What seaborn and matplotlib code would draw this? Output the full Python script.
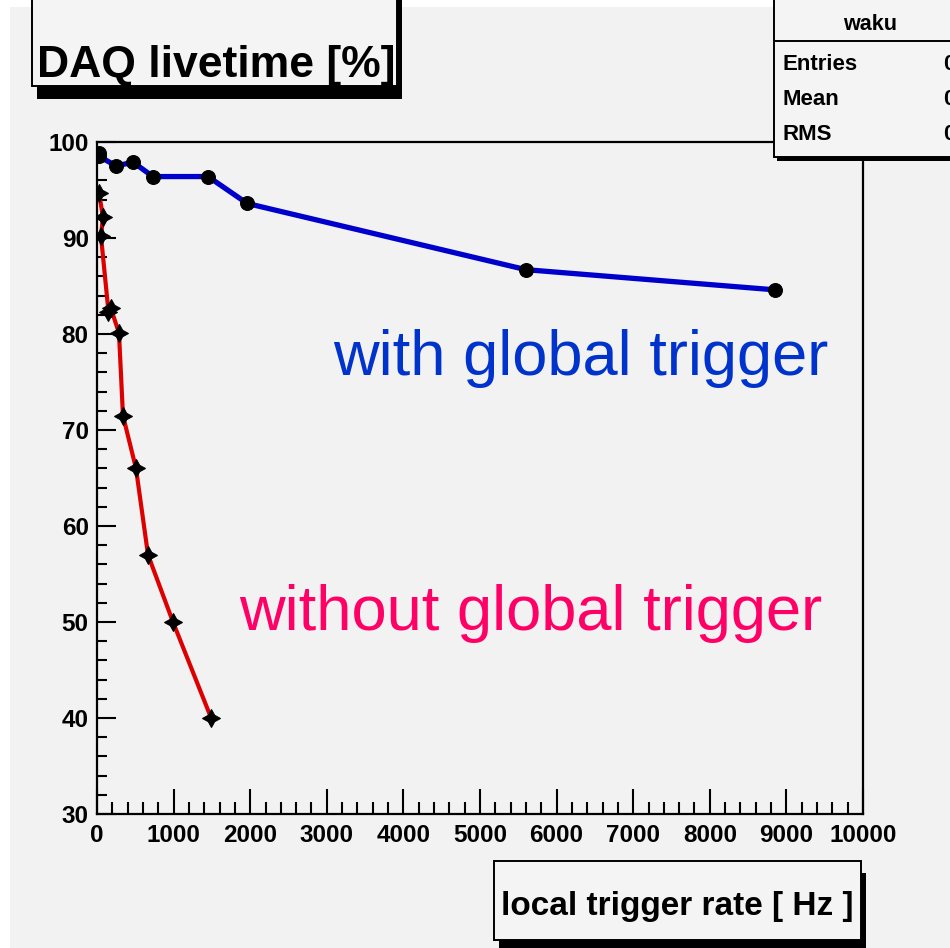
import numpy as np
import pandas as pd
import matplotlib
matplotlib.use("Agg")
import matplotlib.pyplot as plt
from matplotlib.patches import Rectangle
import seaborn as sns

# ---- data ----
with_x = [20, 30, 250, 470, 730, 1450, 1960, 5600, 8850]
with_y = [98.9, 98.5, 97.5, 97.9, 96.4, 96.4, 93.6, 86.7, 84.6]

without_x = [26, 78, 52, 150, 180, 287, 339, 509, 666, 992, 1490]
without_y = [94.7, 92.2, 90.2, 82.3, 82.7, 80.1, 71.5, 66.0, 57.0, 50.0, 40.0]

x_ticks = [0, 1000, 2000, 3000, 4000, 5000, 6000, 7000, 8000, 9000, 10000]
y_ticks = [30, 40, 50, 60, 70, 80, 90, 100]

title_text = "DAQ livetime [%]"
xlabel_text = "local trigger rate [ Hz ]"
stats_title = "waku"
stats_rows = ["Entries", "Mean", "RMS"]
label_with = "with global trigger"
label_without = "without global trigger"

BG = "#f2f2f2"
FONT = ["Liberation Sans", "DejaVu Sans"]

sns.set_style("ticks")
plt.rcParams["font.family"] = FONT
plt.rcParams["text.color"] = "black"
plt.rcParams["xtick.color"] = "black"
plt.rcParams["ytick.color"] = "black"
plt.rcParams["axes.edgecolor"] = "black"

W, H = 950, 948
fig = plt.figure(figsize=(W / 100, H / 100), dpi=100, facecolor=BG)

def fx(px):
    return px / W

def fy(py):
    return 1 - py / H

# axes: x 97..863 px, y 142..814 px
ax = fig.add_axes([fx(97), fy(814), fx(863) - fx(97), fy(142) - fy(814)])
ax.set_facecolor(BG)

df_with = pd.DataFrame({"rate": with_x, "live": with_y})
df_without = pd.DataFrame({"rate": without_x, "live": without_y})

sns.lineplot(data=df_with, x="rate", y="live", ax=ax, sort=False, estimator=None,
             color="#0000cc", linewidth=3.8, marker="o", markersize=10,
             markerfacecolor="black", markeredgecolor="black", zorder=3)
sns.lineplot(data=df_without, x="rate", y="live", ax=ax, sort=False, estimator=None,
             color="#dd0000", linewidth=3.0, marker=(4, 1, 0), markersize=13,
             markerfacecolor="black", markeredgecolor="black", zorder=3)

ax.set_xlim(0, 10000)
ax.set_ylim(30, 100)
ax.set_xticks(x_ticks)
ax.set_yticks(y_ticks)
ax.set_xticklabels([str(t) for t in x_ticks], fontsize=17.5, fontweight="bold")
ax.set_yticklabels([str(t) for t in y_ticks], fontsize=17.5, fontweight="bold")
ax.set_xticks(np.arange(0, 10001, 200), minor=True)
ax.set_yticks(np.arange(30, 101, 2), minor=True)
ax.tick_params(axis="x", which="major", direction="in", length=18, width=1.5, pad=7)
ax.tick_params(axis="x", which="minor", direction="in", length=9, width=1.5)
ax.tick_params(axis="y", which="major", direction="in", length=14, width=1.5, pad=6)
ax.tick_params(axis="y", which="minor", direction="in", length=7, width=1.5)
ax.set_xlabel("")
ax.set_ylabel("")
for s in ax.spines.values():
    s.set_linewidth(1.6)
    s.set_color("black")
    s.set_visible(True)

ax.text(3081, 100 - (375 - 142) / 9.6, label_with, color="#0033cc",
        fontsize=45.5, va="baseline", ha="left")
ax.text(1860, 100 - (630 - 142) / 9.6, label_without, color="#ff0066",
        fontsize=45.5, va="baseline", ha="left")

# white edge strips
fig.add_artist(Rectangle((0, fy(7)), 1, 1, transform=fig.transFigure,
                         facecolor="white", edgecolor="none", zorder=0))
fig.add_artist(Rectangle((0, 0), fx(10), 1, transform=fig.transFigure,
                         facecolor="white", edgecolor="none", zorder=0))

def box(x0, y0, x1, y1, sx, sy):
    # shadow
    fig.add_artist(Rectangle((fx(x0 + sx), fy(y1 + sy)), fx(x1 - x0), fy(y0) - fy(y1),
                             transform=fig.transFigure, facecolor="black",
                             edgecolor="none", zorder=5))
    fig.add_artist(Rectangle((fx(x0), fy(y1)), fx(x1 - x0), fy(y0) - fy(y1),
                             transform=fig.transFigure, facecolor="#f4f4f4",
                             edgecolor="black", linewidth=1.4, zorder=6))

# title box
box(32, -20, 397, 86, 5, 13)
fig.text(fx(37), fy(77), title_text, fontsize=32, fontweight="bold",
         ha="left", va="baseline", zorder=7)

# x label box
box(494, 861, 861, 940, 5, 12)
fig.text(fx(677), fy(915), xlabel_text, fontsize=24, fontweight="bold",
         ha="center", va="baseline", zorder=7)

# stats box
box(774, -20, 980, 157, 3, 4)
fig.add_artist(plt.Line2D([fx(774), 1], [fy(41), fy(41)], transform=fig.transFigure,
                          color="black", linewidth=1.4, zorder=7))
fig.text(fx(870), fy(30), stats_title, fontsize=15.5, fontweight="bold",
         ha="center", va="baseline", zorder=7)
for i, r in enumerate(stats_rows):
    fig.text(fx(783), fy(70 + 35 * i), r, fontsize=16, fontweight="bold",
             ha="left", va="baseline", zorder=7)
    fig.text(fx(943), fy(70 + 35 * i), "0", fontsize=16, fontweight="bold",
             ha="left", va="baseline", zorder=7)

fig.savefig("out.png", dpi=100, facecolor=BG)
